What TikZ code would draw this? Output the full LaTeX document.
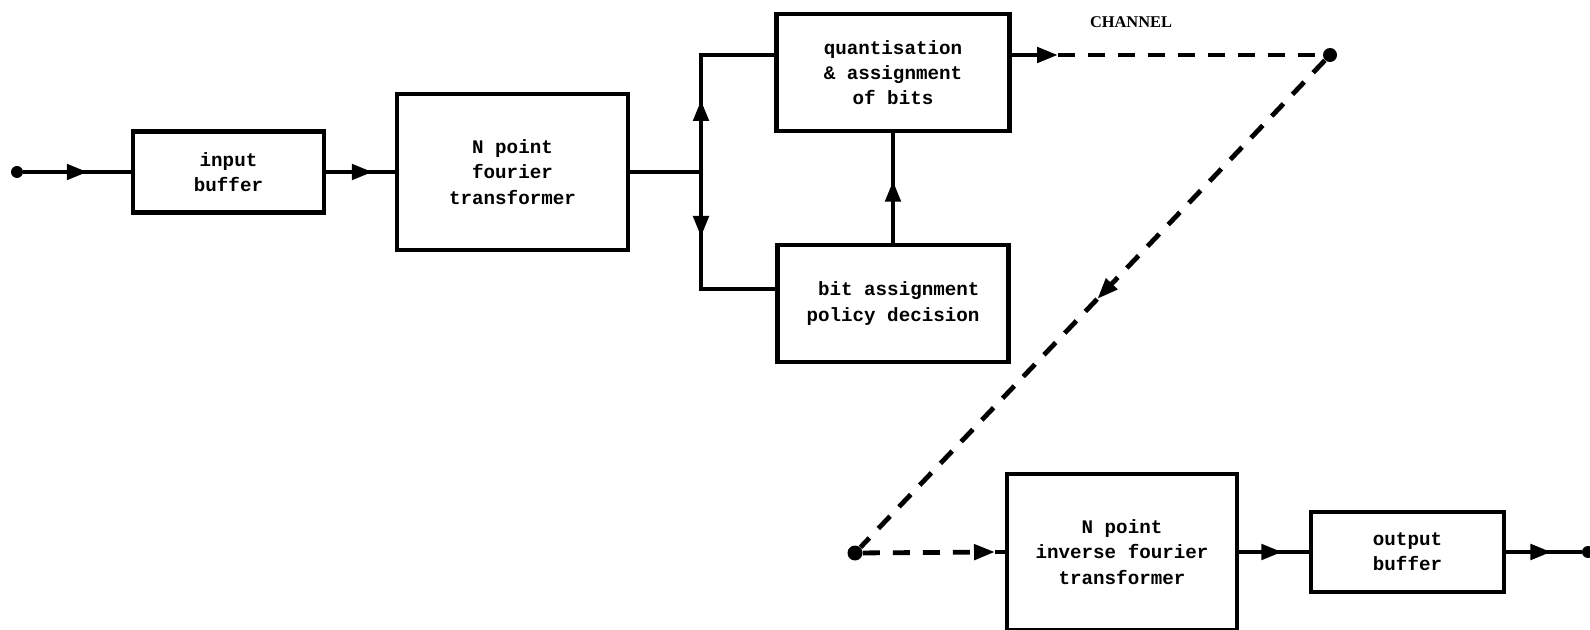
\documentclass[tikz,border=0pt]{standalone}
\usepackage{fontspec}
\newfontfamily\boxfont{Liberation Mono}
\newfontfamily\chfont{Liberation Serif}
\usetikzlibrary{arrows.meta,decorations.markings}
\begin{document}
\begin{tikzpicture}[x=0.5pt,y=-0.5pt,
  blk/.style={draw, line width=2.3pt, inner sep=0pt, align=center,
    font=\boxfont\bfseries\fontsize{9.6}{12.6}\selectfont},
  wire/.style={line width=2.4pt},
  dashpat/.style={dash pattern=on 8.5pt off 6.5pt},
  tip/.style={-{Triangle[length=10.5pt,width=7.5pt]}},
  marrow/.style={postaction={decorate,decoration={markings,
    mark=at position #1 with {\arrow{Triangle[length=10.5pt,width=7.5pt]}}}}},
  dotc/.style={circle, fill=black, inner sep=0pt, minimum size=6pt}]
\useasboundingbox (0,0) rectangle (1590,630);

% nodes
\node[dotc] (in) at (17,172) {};
\node[blk, minimum width=95.5pt, minimum height=40.5pt] (ib) at (228.5,172) {input\\buffer};
\node[blk, minimum width=115.5pt, minimum height=78pt] (ft) at (512.5,172) {N point\\fourier\\transformer};
\node[blk, minimum width=116.5pt, minimum height=58.5pt] (q) at (893,72.5) {quantisation\\\& assignment\\of bits};
\node[blk, minimum width=115.5pt, minimum height=58.5pt, align=right] (b) at (893,303.5) {bit assignment\\policy decision};
\node[font=\chfont\bfseries\fontsize{8.2}{10}\selectfont, inner sep=0pt] (ch) at (1131,22) {CHANNEL};
\node[dotc, minimum size=7pt] (d1) at (1330,55) {};
\node[dotc, minimum size=7.5pt] (d2) at (855,553) {};
\node[blk, minimum width=115pt, minimum height=78pt] (inv) at (1122,552) {N point\\inverse fourier\\transformer};
\node[blk, minimum width=96.5pt, minimum height=40pt] (ob) at (1407.5,552) {output\\buffer};
\node[dotc] (out) at (1588,552) {};

\coordinate (j) at (701,172);
\coordinate (tc) at (701,55);
\coordinate (bc) at (701,289);
\coordinate (qa) at (1058,55);
\coordinate (la) at (995,552);

% connectors
\draw[wire, marrow=0.6] (in) -- (ib);
\draw[wire, marrow=0.68] (ib) -- (ft);
\draw[wire] (ft) -- (j);
\draw[wire, marrow=36pt] (j) -- (tc) -- (tc -| q.west);
\draw[wire, marrow=32.5pt] (j) -- (bc) -- (bc -| b.west);
\draw[wire, marrow=31pt] (b) -- (q);
\draw[wire, tip] (q.east |- tc) -- (qa);
\draw[wire, dashpat] (qa) -- (d1);
\draw[wire, dashpat, marrow=0.49] (d1) -- (d2);
\draw[wire, dashpat, tip] (d2) -- (la);
\draw[wire] (la) -- (inv);
\draw[wire, marrow=0.62] (inv) -- (ob);
\draw[wire, marrow=0.6] (ob) -- (out);
\end{tikzpicture}
\end{document}
